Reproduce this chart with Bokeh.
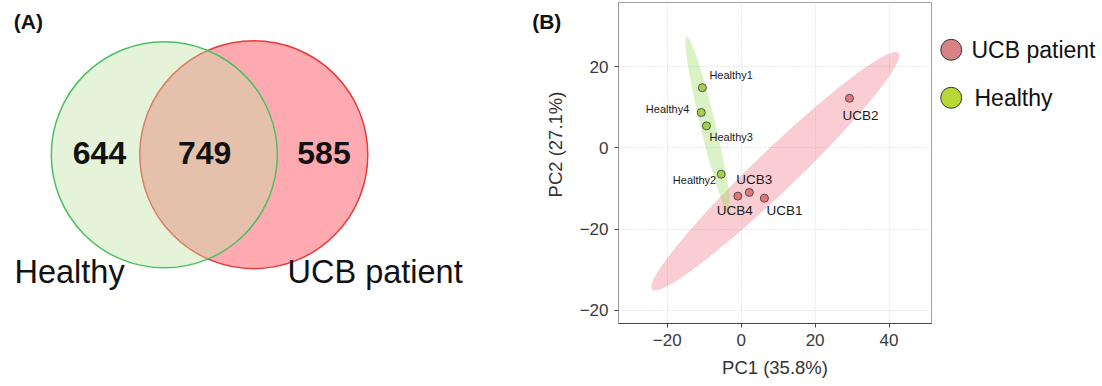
import numpy as np
from bokeh.plotting import figure
from bokeh.models import Range1d, FixedTicker, ColumnDataSource
from bokeh.layouts import row
from bokeh.embed import file_html
from bokeh.resources import INLINE
from bokeh.core.properties import value

# ---------------- data ----------------
# Venn diagram (A)
set_names = ["Healthy", "UCB patient"]
venn_counts = [644, 749, 585]          # Healthy only, both, UCB only

# PCA (B)
samples = ["Healthy1", "Healthy2", "Healthy3", "Healthy4", "UCB1", "UCB2", "UCB3", "UCB4"]
groups = ["Healthy", "Healthy", "Healthy", "Healthy",
          "UCB patient", "UCB patient", "UCB patient", "UCB patient"]
pc1 = [-10.5, -5.4, -9.4, -10.8, 6.3, 29.3, 2.2, -0.9]
pc2 = [14.8, -6.5, 5.4, 8.7, -12.4, 12.2, -11.0, -11.9]
x_ticks = [-20, 0, 20, 40]
x_tick_labels = ["\u221220", "0", "20", "40"]
y_ticks = [-40, -20, 0, 20]
y_tick_labels = ["\u221220", "\u221220", "0", "20"]
pc1_title = "PC1 (35.8%)"
pc2_title = "PC2 (27.1%)"
legend_groups = ["UCB patient", "Healthy"]

# ---------------- styles ----------------
FONT = "Liberation Sans"
H = 386
TOP, BOTTOM = 2, 63          # shared frame borders (row aligns frames)
FH = H - TOP - BOTTOM        # frame height
point_fill = {"UCB patient": "#e0777c", "Healthy": "#a6d24a"}
ellipse_fill = {"UCB patient": "#ee6f7b", "Healthy": "#95d958"}
legend_fill = {"UCB patient": "#d98285", "Healthy": "#b8d935"}
# label placement (screen px offsets, positive = down)
lab_dx = [7, -5, 3, -12, 2, -7, -13, -21]
lab_dy = [-13, 6, 11, -4, 12, 17, -13, 14]
lab_align = ["left", "right", "left", "right", "left", "left", "left", "left"]


def bare(width):
    f = figure(width=width, height=H, x_range=Range1d(0, width), y_range=Range1d(0, FH),
               output_backend="svg", toolbar_location=None, title=None,
               min_border_left=0, min_border_right=0,
               min_border_top=TOP, min_border_bottom=BOTTOM,
               x_axis_type=None, y_axis_type=None)
    f.grid.visible = False
    f.outline_line_color = None
    return f


def sy(y_screen):
    return TOP + FH - y_screen


# ---------------- (A) Venn ----------------
va = bare(528)
va.circle(x=[253.3], y=[sy(154.2)], radius=114, fill_color="#ffaab1",
          line_color="#e83a3a", line_width=1.5)
va.circle(x=[163.8], y=[sy(154.3)], radius=113, fill_color="#c1e2a4", fill_alpha=0.42,
          line_color="#4cc060", line_width=1.5)
va.text(x=[99, 204.2, 323.5], y=[sy(152.5)] * 3, text=[str(c) for c in venn_counts],
        text_font=value(FONT), text_font_style="bold", text_font_size="32px",
        text_align="center", text_baseline="middle", text_color="#111111")
va.text(x=[14, 287], y=[sy(271.7)] * 2, text=set_names, text_font=value(FONT),
        text_font_size="32.5px", text_align="left", text_baseline="alphabetic",
        text_color="#111111")
va.text(x=[13.3], y=[sy(9.0)], text=["(A)"], text_font=value(FONT), text_font_style="bold",
        text_font_size="21px", text_align="left", text_baseline="top", text_color="#111111")

# ---------------- strip with panel letter (B) and the PC2 axis title ----------------
mid = bare(40)
mid.text(x=[3.7], y=[sy(9.0)], text=["(B)"], text_font=value(FONT), text_font_style="bold",
         text_font_size="21px", text_align="left", text_baseline="top", text_color="#111111")
mid.text(x=[27], y=[sy(144)], text=[pc2_title], angle=np.pi / 2, text_font=value(FONT),
         text_font_size="18.5px", text_align="center", text_baseline="middle",
         text_color="#333333")

# ---------------- (B) PCA ----------------
p = figure(width=365, height=H, x_range=Range1d(-33.2, 51.5), y_range=Range1d(-43.28, 35.8),
           output_backend="svg", toolbar_location=None, title=None,
           min_border_left=50, min_border_right=2, min_border_top=TOP, min_border_bottom=BOTTOM)
p.outline_line_color = "#a0a0a0"
p.outline_line_width = 1

k95 = np.sqrt(5.991)
t = np.linspace(0, 2 * np.pi, 240)
unit = np.stack([np.cos(t), np.sin(t)])
for g in ["UCB patient", "Healthy"]:
    gx = np.array([x for x, gg in zip(pc1, groups) if gg == g])
    gy = np.array([y for y, gg in zip(pc2, groups) if gg == g])
    cov = np.cov(gx, gy)
    vals, vecs = np.linalg.eigh(cov)
    pts = vecs @ (np.sqrt(vals)[:, None] * unit) * k95
    p.patch(gx.mean() + pts[0], gy.mean() + pts[1], fill_color=ellipse_fill[g],
            fill_alpha=0.35, line_color=None)

src = ColumnDataSource(dict(x=pc1, y=pc2, name=samples, group=groups,
                            fill=[point_fill[g] for g in groups],
                            dx=lab_dx, dy=lab_dy, align=lab_align,
                            fs=["11px" if g == "Healthy" else "13.5px" for g in groups]))
p.scatter("x", "y", source=src, size=8, fill_color="fill", line_color="#444444", line_width=0.9)
p.text("x", "y", text="name", source=src, x_offset="dx", y_offset="dy", text_align="align",
       text_baseline="middle", text_font=value(FONT), text_font_size="fs", text_color="#1a1a1a")

p.xaxis.ticker = FixedTicker(ticks=x_ticks)
p.yaxis.ticker = FixedTicker(ticks=y_ticks)
p.xaxis.major_label_overrides = dict(zip(x_ticks, x_tick_labels))
p.yaxis.major_label_overrides = dict(zip(y_ticks, y_tick_labels))
p.xaxis.axis_label = pc1_title
for ax in (p.xaxis, p.yaxis):
    ax.minor_tick_line_color = None
    ax.major_tick_in = 0
    ax.major_tick_out = 4
    ax.major_tick_line_color = "#444444"
    ax.major_label_text_font = FONT
    ax.major_label_text_font_size = "17px"
    ax.major_label_text_color = "#3a3a3a"
    ax.axis_label_text_font = FONT
    ax.axis_label_text_font_size = "18.5px"
    ax.axis_label_text_font_style = "normal"
    ax.axis_label_text_color = "#333333"
    ax.major_label_standoff = 6
p.xaxis.axis_line_color = "#444444"
p.yaxis.axis_line_color = "#999999"
p.xaxis.axis_label_standoff = 8
p.grid.grid_line_color = "#d4d4d4"
p.grid.grid_line_dash = "1 2"

# ---------------- legend ----------------
lg = bare(169)
lg.scatter(x=[17.7, 17.7], y=[sy(49.3), sy(97.3)], size=21,
           fill_color=[legend_fill[g] for g in legend_groups], line_color="#333333", line_width=1)
lg.text(x=[38, 41], y=[sy(49.3), sy(97.3)], text=legend_groups, text_font=value(FONT),
        text_font_size="23px", text_baseline="middle", text_align="left", text_color="#111111")

layout = row(va, mid, p, lg)
open("out.html", "w").write(file_html(layout, INLINE))
